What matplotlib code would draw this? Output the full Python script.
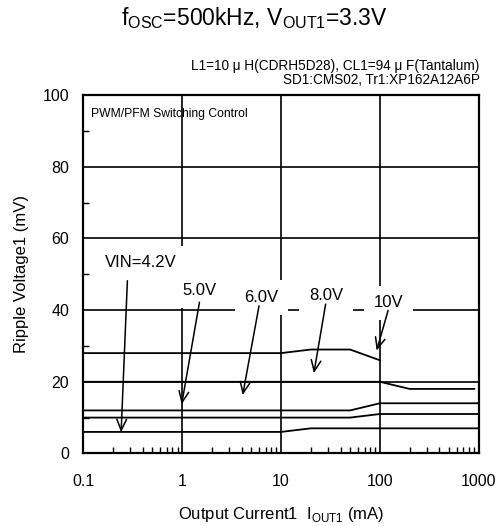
import matplotlib.pyplot as plt
from matplotlib.ticker import FixedLocator, NullFormatter

plt.rcParams['font.family'] = ['Liberation Sans', 'DejaVu Sans']
plt.rcParams['mathtext.fontset'] = 'custom'
plt.rcParams['mathtext.rm'] = 'Liberation Sans'

# Ripple voltage (mV) vs output current (mA), one curve per VIN
x_42 = [0.1, 10, 20, 1000]
y_42 = [6, 6, 7, 7]
x_50 = [0.1, 50, 100, 1000]
y_50 = [10, 10, 11, 11]
x_60 = [0.1, 50, 100, 1000]
y_60 = [12, 12, 14, 14]
x_80 = [0.1, 100, 200, 900]
y_80 = [20, 20, 18, 18]
x_100 = [0.1, 10, 20, 50, 100]
y_100 = [28, 28, 29, 29, 26]

# curve labels: text, label position, arrow tail, arrow head (data coords)
labels = ['VIN=4.2V', '5.0V', '6.0V', '8.0V', '10V']
label_xy = [(0.38, 53.2), (1.5, 45.4), (6.35, 43.5), (28.5, 44.0), (123, 42.0)]
tail_xy = [(0.28, 48.2), (1.5, 42.2), (6.0, 41.2), (28.3, 41.7), (121, 39.9)]
head_xy = [(0.242, 5.9), (0.99, 13.7), (4.1, 16.3), (21.5, 22.4), (92.7, 28.7)]

fig = plt.figure(figsize=(5.04, 5.26), dpi=100)
ax = fig.add_axes([0.165, 0.138, 0.785, 0.681])

for xs, ys in [(x_42, y_42), (x_50, y_50), (x_60, y_60), (x_80, y_80), (x_100, y_100)]:
    ax.plot(xs, ys, color='black', linewidth=1.3, zorder=3)

ax.set_xscale('log')
ax.set_xlim(0.1, 1000)
ax.set_ylim(0, 100)
ax.set_xticks([0.1, 1, 10, 100, 1000])
ax.set_xticklabels(['0.1', '1', '10', '100', '1000'])
ax.xaxis.set_minor_formatter(NullFormatter())
ax.set_yticks([0, 20, 40, 60, 80, 100])
ax.yaxis.set_minor_locator(FixedLocator([10, 30, 50, 70, 90]))
ax.tick_params(which='major', length=0, labelsize=11.5, pad=15)
ax.tick_params(which='minor', direction='in', length=4, width=1)
ax.tick_params(axis='y', which='major', pad=10)
ax.grid(True, which='major', color='black', linewidth=1.2)
for s in ax.spines.values():
    s.set_linewidth(1.6)

ax.set_xlabel(r'Output Current1  $\mathrm{I}_{\mathrm{OUT1}}$ (mA)', fontsize=12, labelpad=11)
ax.set_ylabel('Ripple Voltage1 (mV)', fontsize=12, labelpad=10)

for txt, lxy, t, h in zip(labels, label_xy, tail_xy, head_xy):
    ax.text(lxy[0], lxy[1], txt, fontsize=12, ha='center', va='center', zorder=4,
            bbox=dict(facecolor='white', edgecolor='none', pad=7))
    ax.annotate('', xy=h, xytext=t, zorder=5,
                arrowprops=dict(arrowstyle='->,head_length=0.8,head_width=0.35',
                                color='black', linewidth=1.1, shrinkA=0, shrinkB=0))

ax.text(0.02, 0.965, 'PWM/PFM Switching Control', transform=ax.transAxes,
        fontsize=8.7, ha='left', va='top')

fig.text(0.505, 0.966, r'$\mathrm{f}_{\mathrm{OSC}}$=500kHz, $\mathrm{V}_{\mathrm{OUT1}}$=3.3V',
         fontsize=16.5, ha='center', va='center')
fig.text(0.952, 0.875, 'L1=10 \u03bc H(CDRH5D28), CL1=94 \u03bc F(Tantalum)',
         fontsize=9.8, ha='right', va='center')
fig.text(0.952, 0.847, 'SD1:CMS02, Tr1:XP162A12A6P', fontsize=9.8, ha='right', va='center')

fig.savefig('out.png', dpi=100)
